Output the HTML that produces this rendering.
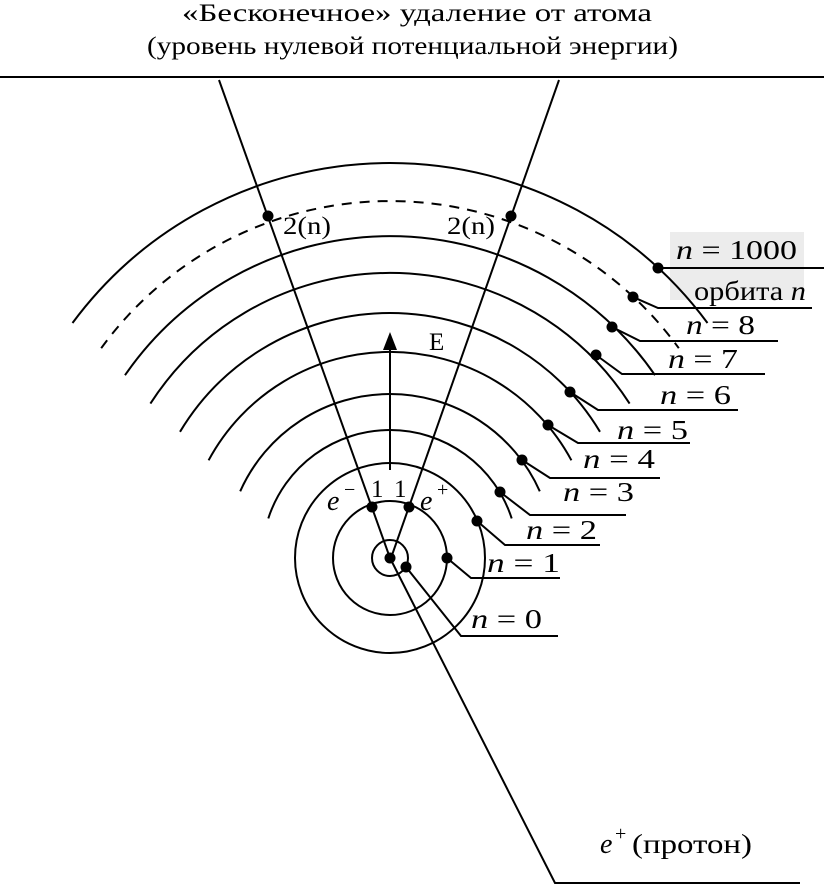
<!DOCTYPE html>
<html><head><meta charset="utf-8"><style>
html,body{margin:0;padding:0;background:#fff;}
svg{display:block;}
text{font-family:"Liberation Serif",serif;fill:#000;}
.m{font-style:italic;}
</style></head><body>
<svg width="824" height="886" viewBox="0 0 824 886" xmlns="http://www.w3.org/2000/svg">
<rect x="670" y="232" width="134" height="68" fill="#ececec"/>
<text x="182" y="21" font-size="25" textLength="470" lengthAdjust="spacingAndGlyphs">«Бесконечное» удаление от атома</text>
<text x="147" y="54" font-size="25" textLength="531" lengthAdjust="spacingAndGlyphs">(уровень нулевой потенциальной энергии)</text>
<line x1="0" y1="77" x2="824" y2="77" stroke="#000" stroke-width="2"/>
<g fill="none" stroke="#000" stroke-width="2">
<path d="M72.5,323 A395,395 0 0 1 707.5,323"/>
<path d="M101.2,348.2 A357,357 0 0 1 678.8,348.2" stroke-dasharray="10,8"/>
<path d="M125,375.2 A322,322 0 0 1 655,375.2"/>
<path d="M150.4,403.6 A285,285 0 0 1 629.6,403.6"/>
<path d="M180,431.8 A245,245 0 0 1 600,431.8"/>
<path d="M208.6,460.3 A206,206 0 0 1 571.4,460.3"/>
<path d="M240.2,491.3 A164,164 0 0 1 539.8,491.3"/>
<path d="M268.3,518.4 A128,128 0 0 1 511.7,518.4"/>
<circle cx="390" cy="558" r="95"/>
<circle cx="390" cy="558" r="57"/>
<circle cx="390" cy="558" r="18"/>
<line x1="219" y1="80" x2="390" y2="558"/>
<line x1="559" y1="80" x2="391" y2="558"/>
<polyline points="390,558 555,883 800,883"/>
<line x1="390" y1="470" x2="390" y2="345"/>
<polyline points="658,268 824,268"/>
<polyline points="633,297 658,308 812,308"/>
<polyline points="612,327 640,341 778,341"/>
<polyline points="596,355 622,374 765,374"/>
<polyline points="570,392 598,410 738,410"/>
<polyline points="548,425 578,443 690,443"/>
<polyline points="522,460 550,478 660,478"/>
<polyline points="500,492 530,515 626,515"/>
<polyline points="477,521 505,545 600,545"/>
<polyline points="447,558 471,578 560,578"/>
<polyline points="406,567 461,636 558,636"/>
</g>
<polygon points="390,332 383,350 397,350" fill="#000"/>
<g fill="#000">
<circle cx="268" cy="216" r="5.5"/><circle cx="511" cy="216" r="5.5"/>
<circle cx="658" cy="268" r="5.5"/><circle cx="633" cy="297" r="5.5"/>
<circle cx="612" cy="327" r="5.5"/><circle cx="596" cy="355" r="5.5"/>
<circle cx="570" cy="392" r="5.5"/><circle cx="548" cy="425" r="5.5"/>
<circle cx="522" cy="460" r="5.5"/><circle cx="500" cy="492" r="5.5"/>
<circle cx="477" cy="521" r="5.5"/><circle cx="447" cy="558" r="5.5"/>
<circle cx="372" cy="507" r="5.5"/><circle cx="409" cy="507" r="5.5"/>
<circle cx="390" cy="558" r="5.5"/><circle cx="406" cy="567" r="5.5"/>
</g>
<g font-size="25">
<text x="283" y="234" textLength="48" lengthAdjust="spacingAndGlyphs">2(n)</text>
<text x="447" y="234" textLength="48" lengthAdjust="spacingAndGlyphs">2(n)</text>
<text x="429" y="350">E</text>
<text x="371" y="497">1</text>
<text x="394" y="497">1</text>
<text x="327" y="510" class="m" font-size="28">e</text><text x="344" y="496" font-size="20">−</text>
<text x="420" y="510" class="m" font-size="28">e</text><text x="437" y="496" font-size="20">+</text>
</g>
<g font-size="27">
<text x="676" y="259" textLength="121" lengthAdjust="spacingAndGlyphs"><tspan class="m">n</tspan> = 1000</text>
<text x="694" y="300" textLength="112" lengthAdjust="spacingAndGlyphs">орбита <tspan class="m">n</tspan></text>
<text x="686" y="334" textLength="69" lengthAdjust="spacingAndGlyphs"><tspan class="m">n</tspan> = 8</text>
<text x="668" y="368" textLength="70" lengthAdjust="spacingAndGlyphs"><tspan class="m">n</tspan> = 7</text>
<text x="660" y="404" textLength="71" lengthAdjust="spacingAndGlyphs"><tspan class="m">n</tspan> = 6</text>
<text x="617" y="439" textLength="71" lengthAdjust="spacingAndGlyphs"><tspan class="m">n</tspan> = 5</text>
<text x="583" y="468" textLength="72" lengthAdjust="spacingAndGlyphs"><tspan class="m">n</tspan> = 4</text>
<text x="563" y="501" textLength="71" lengthAdjust="spacingAndGlyphs"><tspan class="m">n</tspan> = 3</text>
<text x="526" y="539" textLength="71" lengthAdjust="spacingAndGlyphs"><tspan class="m">n</tspan> = 2</text>
<text x="487" y="572" textLength="73" lengthAdjust="spacingAndGlyphs"><tspan class="m">n</tspan> = 1</text>
<text x="471" y="628" textLength="71" lengthAdjust="spacingAndGlyphs"><tspan class="m">n</tspan> = 0</text>
<text x="600" y="853" class="m" font-size="28">e</text>
<text x="615" y="840" font-size="20">+</text>
<text x="632" y="853" textLength="120" lengthAdjust="spacingAndGlyphs">(протон)</text>
</g>
</svg>
</body></html>
